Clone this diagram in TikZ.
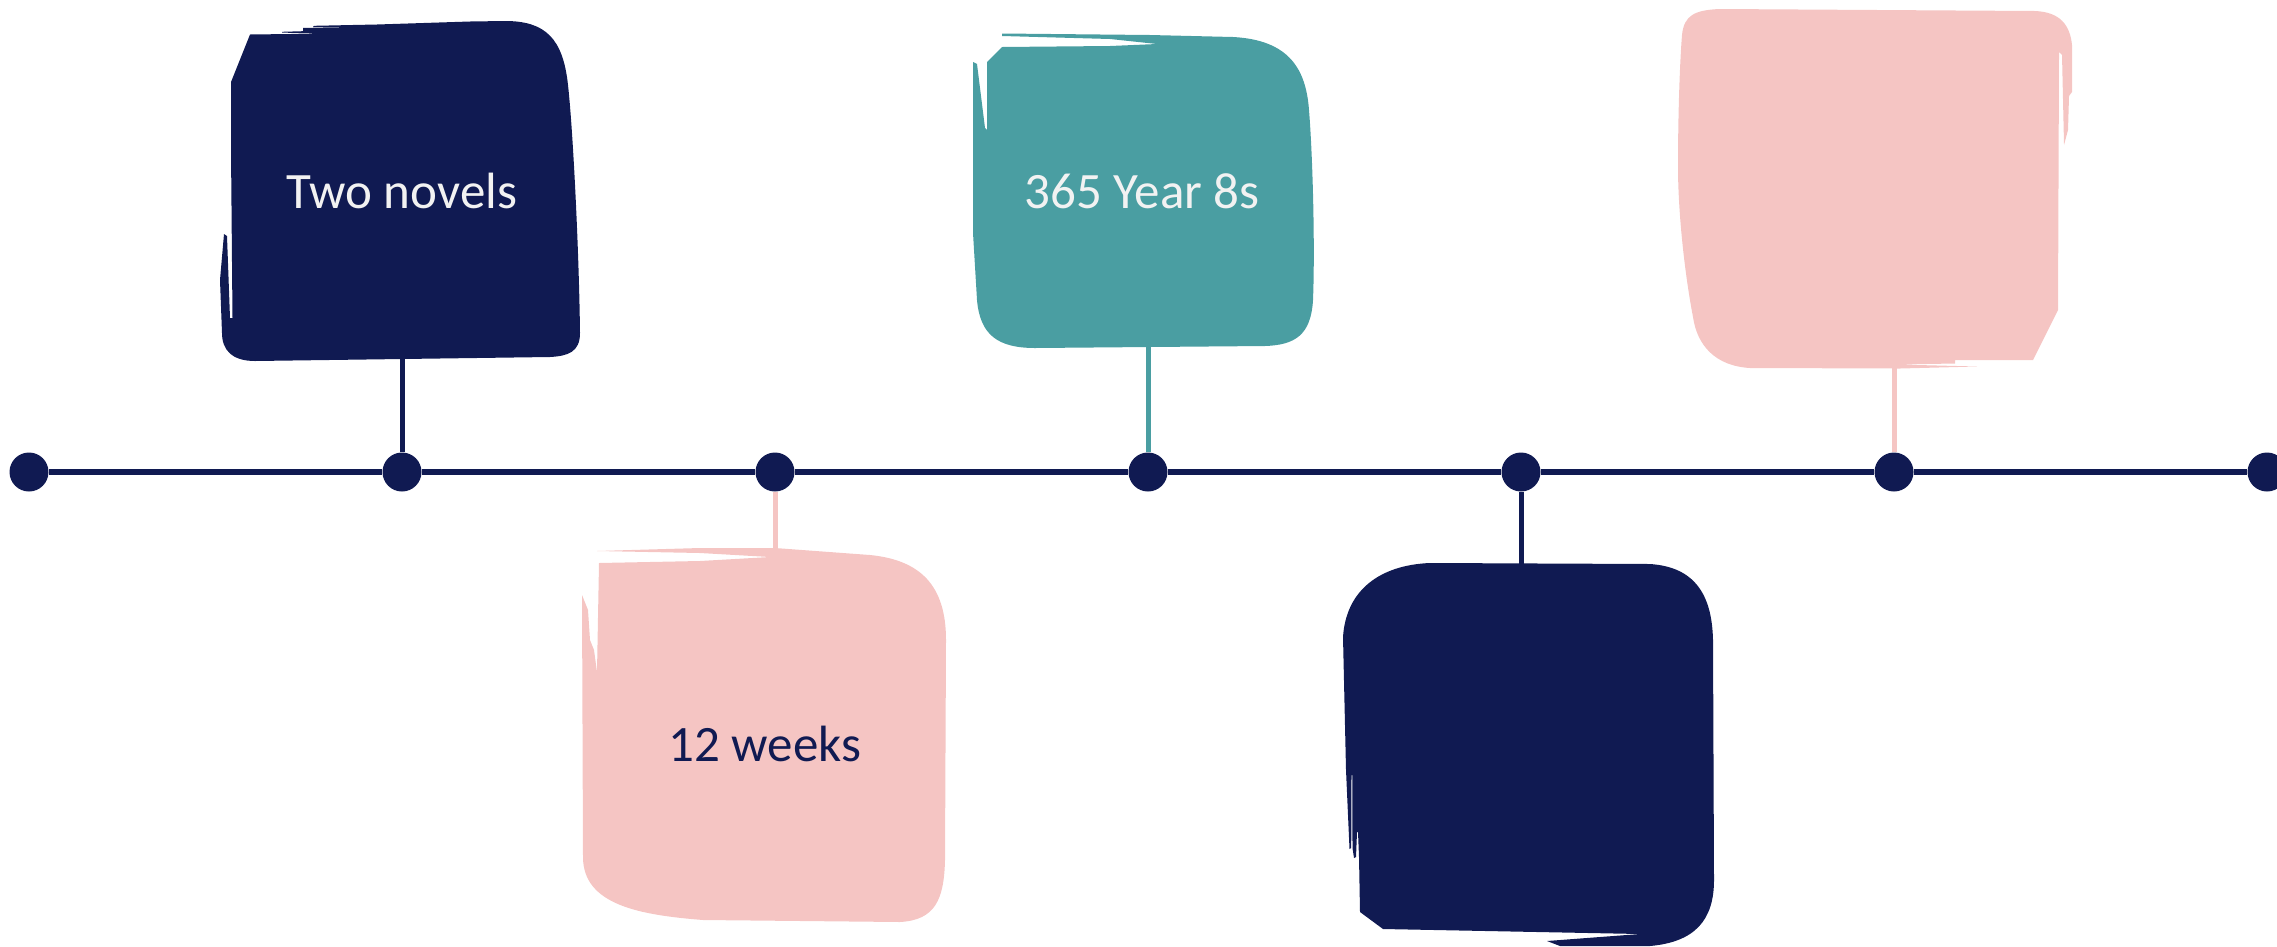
\documentclass[tikz,border=0pt]{standalone}
\usepackage{fontspec}
\setmainfont{Carlito}
\definecolor{navy}{HTML}{101A52}
\definecolor{teal}{HTML}{4A9EA2}
\definecolor{blush}{HTML}{F5C5C3}
\definecolor{paper}{HTML}{F2F2F2}
\begin{document}
\begin{tikzpicture}[x=1pt,y=-1pt,
  dot/.style={circle,fill=navy,inner sep=0pt,minimum size=39pt},
  rail/.style={line width=5.5pt,draw=navy},
  stem/.style={line width=5pt},
  label/.style={font=\fontsize{51}{61}\selectfont,anchor=base,inner sep=0pt},
]
\useasboundingbox (0,0) rectangle (2277,946);
\clip (0,0) rectangle (2277,946);

% timeline dots
\foreach \i/\x in {1/29,2/402,3/775,4/1148,5/1521,6/1894,7/2267}
  \node[dot] (d\i) at (\x,472) {};

% timeline rail between the dots
\draw[rail] (d1) -- (d2) (d2) -- (d3) (d3) -- (d4) (d4) -- (d5)
            (d5) -- (d6) (d6) -- (d7);

% brush-stroke cards
% card 1 (navy, above)
\fill[navy] (231,82) -- (250,34.5) -- (324,33.6) -- (282,32.6) -- (282,31.8)
  -- (303,31.2) -- (303,27.8) -- (377,27.6) -- (313,27.0) -- (314,25.8)
  -- (377,24.5) -- (470,21.5) -- (505,21)
  .. controls (545,21) and (563,38) .. (568,85)
  .. controls (573,130) and (579,250) .. (580,333)
  .. controls (580,352) and (568,356) .. (550,357) -- (255,361)
  .. controls (232,361) and (222,350) .. (222,333) -- (220,280) -- (224,234)
  -- (227,236) -- (230,318) -- (232.5,318) -- (231,150) -- cycle;

% card 2 (teal, above)
\fill[teal] (1002,33.5) -- (1150,35) -- (1233,37)
  .. controls (1290,40) and (1306,70) .. (1309,110)
  .. controls (1313,160) and (1315,250) .. (1313,300)
  .. controls (1311,335) and (1295,345) .. (1265,346) -- (1035,348)
  .. controls (998,348) and (980,335) .. (977,300) -- (973,233) -- (973,62)
  -- (977,64) -- (985,128) -- (987,130) -- (987,62) -- (1002,47) -- (1110,46)
  -- (1157,44) -- (1110,39) -- (1002,36) -- cycle;

% card 3 (pink, above, right)
\fill[blush] (1682,35) .. controls (1684,15) and (1695,10) .. (1720,9)
  -- (2035,11) .. controls (2060,12) and (2070,25) .. (2072,45) -- (2072,92)
  -- (2069,96) -- (2068,130) -- (2064,145) -- (2062,55) -- (2059,52)
  -- (2058,310) -- (2033,360) -- (1955,360) -- (1955,363.5) -- (1897,364.5)
  -- (1977,366.5) -- (1900,368.5) -- (1750,368)
  .. controls (1715,366) and (1697,345) .. (1693,317)
  .. controls (1684,270) and (1678,210) .. (1678,167)
  .. controls (1678,110) and (1680,60) .. cycle;

% card 4 (pink, below)
\fill[blush] (582,595) -- (583,857) .. controls (583,905) and (640,915) .. (703,920)
  -- (900,922) .. controls (935,920) and (944,900) .. (945,860) -- (946,640)
  .. controls (946,585) and (920,560) .. (870,555) -- (775,548) -- (700,548)
  -- (597,551) -- (700,553) -- (770,557) -- (700,561) -- (599,563)
  -- (597,672) -- (594,650) -- (590,640) -- (588,610) -- cycle;

% card 5 (navy, below, right)
\fill[navy] (1343,637) .. controls (1346,590) and (1380,565) .. (1430,563)
  -- (1650,564) .. controls (1695,567) and (1712,595) .. (1713,640)
  -- (1714,880) .. controls (1714,920) and (1695,942) .. (1650,946)
  -- (1560,946) -- (1547,941) -- (1600,937) -- (1640,934) -- (1383,929)
  -- (1360,912) -- (1359,857) -- (1358,832) -- (1357,832) -- (1356,857)
  -- (1354,858) -- (1352.5,848) -- (1352.3,775) -- (1351.5,775)
  -- (1351.2,848) -- (1349.5,849) -- (1346,770) -- cycle;

% attachment points on the cards
\coordinate (c1) at (402,358);
\coordinate (c2) at (1148,346);
\coordinate (c3) at (1894,366);
\coordinate (c4) at (775,550);
\coordinate (c5) at (1521,565);

% stems from cards to the timeline
\draw[stem,navy]  (c1) -- (d2);
\draw[stem,teal]  (c2) -- (d4);
\draw[stem,blush] (c3) -- (d6);
\draw[stem,blush] (c4) -- (d3);
\draw[stem,navy]  (c5) -- (d5);

% card texts
\node[label,text=paper] (t1) at (402,208) {Two novels};
\node[label,text=paper] (t2) at (1142,208) {365 Year 8s};
\node[label,text=navy]  (t4) at (765,761) {12 weeks};
\end{tikzpicture}
\end{document}
